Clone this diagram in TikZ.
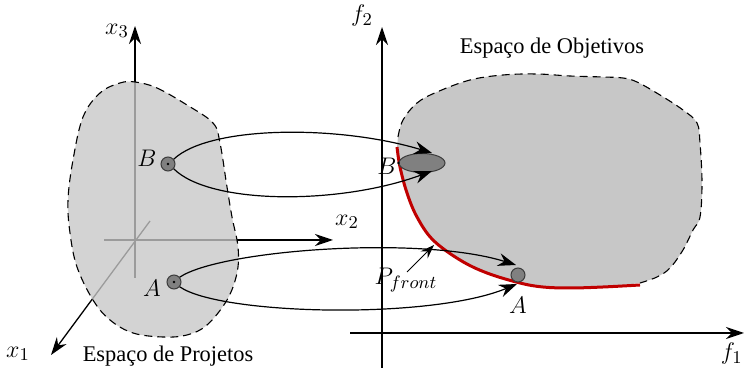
\documentclass[tikz,border=0pt]{standalone}
\usepackage{fontspec}
\setmainfont{Liberation Serif}
\usetikzlibrary{arrows.meta,shapes.geometric}
\definecolor{lblob}{RGB}{199,199,199}
\definecolor{rblob}{RGB}{199,199,199}
\definecolor{ptfill}{RGB}{128,128,128}
\definecolor{ptdraw}{RGB}{60,60,60}
\definecolor{frontred}{RGB}{192,0,0}
\tikzset{
  axis/.style={line width=0.65pt,-{Stealth[length=9pt,width=6pt,inset=3pt]}},
  conn/.style={line width=0.6pt,-{Stealth[length=9pt,width=6.5pt,inset=3pt]}},
  outline/.style={line width=0.55pt,dash pattern=on 4pt off 2.5pt},
  ptcircle/.style={circle,draw=ptdraw,fill=ptfill,line width=0.5pt,minimum size=7pt,inner sep=0pt},
  lbl/.style={inner sep=1pt},
  mlbl/.style={inner sep=1pt,font=\fontsize{12.5}{14}\selectfont},
}
\begin{document}
\begin{tikzpicture}[x=0.5pt,y=-0.5pt,font=\fontsize{11.2}{13}\selectfont]
\useasboundingbox (0,0) rectangle (745,368);
% left axes
\coordinate (x3bot) at (135,278);
\coordinate (x3tip) at (135,26);
\coordinate (x2start) at (104,240);
\coordinate (x2tip) at (333,240);
\coordinate (x1start) at (150,221);
\coordinate (x1tip) at (51,355);
\draw[axis] (x3bot) -- (x3tip);
\draw[axis] (x2start) -- (x2tip);
\draw[axis] (x1start) -- (x1tip);
% left blob
\fill[lblob,fill opacity=0.78] plot[smooth cycle,tension=0.6] coordinates {
 (135,82) (157,88) (187,105) (213,123) (220,143) (227,187) (232,217) (238,247)
 (237,273) (227,300) (207,325) (187,335) (163,337) (133,333) (110,320) (93,300)
 (77,267) (70,233) (68,200) (73,160) (83,117) (100,93) (120,83)};
\draw[outline] plot[smooth cycle,tension=0.6] coordinates {
 (135,82) (157,88) (187,105) (213,123) (220,143) (227,187) (232,217) (238,247)
 (237,273) (227,300) (207,325) (187,335) (163,337) (133,333) (110,320) (93,300)
 (77,267) (70,233) (68,200) (73,160) (83,117) (100,93) (120,83)};
% right axes
\coordinate (f2bot) at (382,368);
\coordinate (f2tip) at (382,27);
\coordinate (f1start) at (350,333);
\coordinate (f1tip) at (744,333);
\draw[axis] (f2bot) -- (f2tip);
\draw[axis] (f1start) -- (f1tip);
% right blob
\fill[rblob] plot[smooth,tension=0.6] coordinates {
 (398,137) (403,120) (417,103) (437,92) (470,80) (503,75) (537,74) (570,76)
 (603,77) (623,78) (637,82) (660,95) (683,110) (697,123) (700,143) (702,183)
 (700,217) (693,230) (683,250) (670,268) (657,277) (640,283)}
 -- plot[smooth,tension=0.6] coordinates {
 (640,283) (603,287) (570,288) (543,287) (520,283) (487,273) (460,260) (433,240)
 (417,217) (407,193) (400,167) (397,147)} -- cycle;
\draw[outline] plot[smooth,tension=0.6] coordinates {
 (398,137) (403,120) (417,103) (437,92) (470,80) (503,75) (537,74) (570,76)
 (603,77) (623,78) (637,82) (660,95) (683,110) (697,123) (700,143) (702,183)
 (700,217) (693,230) (683,250) (670,268) (657,277) (640,283)};
\draw[frontred,line width=1.5pt] plot[smooth,tension=0.6] coordinates {
 (640,285) (603,287) (570,288) (543,287) (520,283) (487,273) (460,260) (433,240)
 (417,217) (407,193) (400,167) (397,147)};
% points
\node[ptcircle] (Bl) at (168,164) {};
\fill (Bl.center) circle (1.3);
\node[ptcircle] (Al) at (174,282) {};
\fill (Al.center) circle (1.3);
\node[ellipse,draw=ptdraw,fill=ptfill,line width=0.5pt,minimum width=23pt,minimum height=9.5pt,inner sep=0pt] (Br) at (422,163) {};
\fill (Br.west) circle (1.3);
\node[ptcircle] (Ar) at (518,275) {};
% connectors
\coordinate (BrU) at (432,153);
\coordinate (BrL) at (432,171);
\coordinate (ArU) at (516,265);
\coordinate (ArL) at (517,284);
\draw[conn] (Bl.40) .. controls (210,125) and (340,125) .. (BrU);
\draw[conn] (Bl.-40) .. controls (210,205) and (340,205) .. (BrL);
\draw[conn] (Al.40) .. controls (220,250) and (420,235) .. (ArU);
\draw[conn] (Al.-40) .. controls (220,315) and (430,320) .. (ArL);
% labels
\node[mlbl] (lx3) at (117,31) {$x_3$};
\node[mlbl] (lx2) at (347,222) {$x_2$};
\node[mlbl] (lx1) at (18,354) {$x_1$};
\node[mlbl] (lf2) at (362,16) {$f_2$};
\node[mlbl,anchor=east] (lf1) at (745,354) {$f_1$};
\node[mlbl] (lBl) at (147,158) {$B$};
\node[mlbl] (lAl) at (152,288) {$A$};
\node[mlbl] (lBr) at (387,166) {$B$};
\node[mlbl] (lAr) at (518,305) {$A$};
\node[mlbl] (lP) at (406,280) {$P_{front}$};
\coordinate (Pstart) at (407,272);
\coordinate (Ptip) at (434,245);
\draw[line width=0.5pt,-{Stealth[length=7pt,width=5pt,inset=2.5pt]}] (Pstart) -- (Ptip);
\node[lbl] (tleft) at (168,356) {Espaço de Projetos};
\node[lbl] (tright) at (552,48) {Espaço de Objetivos};
\end{tikzpicture}
\end{document}
